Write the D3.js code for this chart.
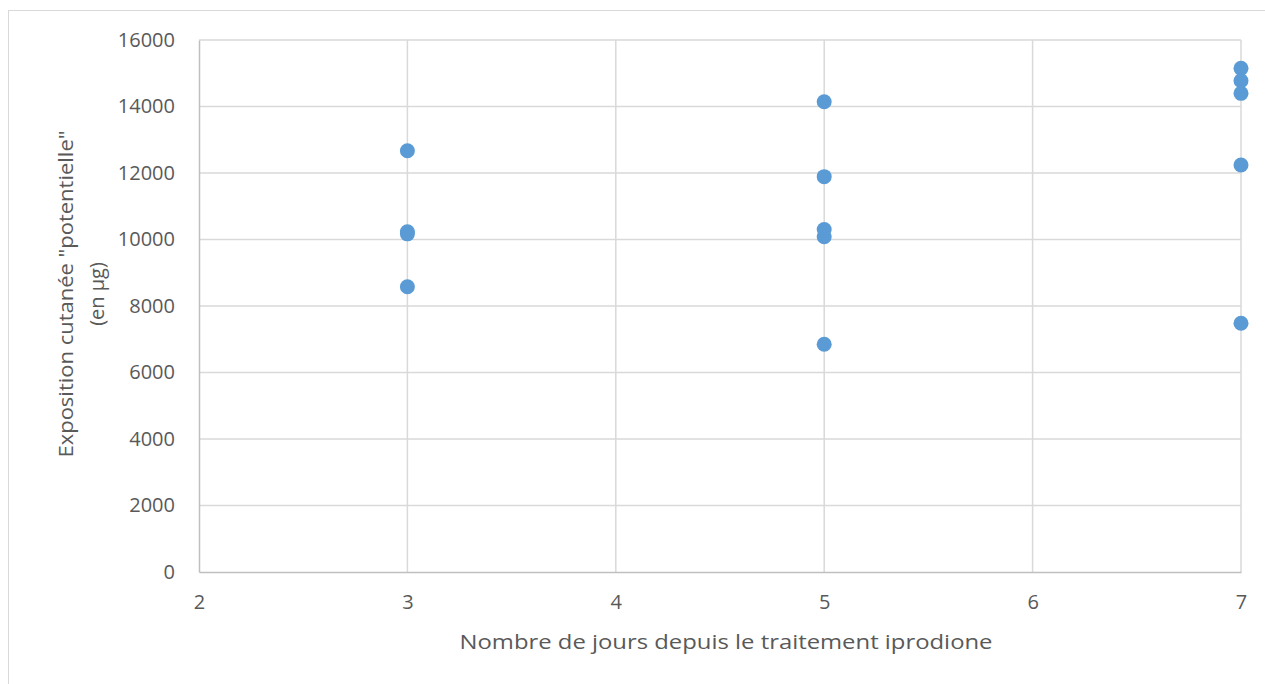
<!DOCTYPE html>
<html>
<head>
<meta charset="utf-8" />
<title>Exposition cutanée</title>
<style>
  body { margin: 0; background: #fff; }
  text { font-family: "Open Sans", sans-serif; fill: #595959; }
</style>
</head>
<body>
<div id="chart"></div>
<script src="https://d3js.org/d3.v7.min.js"></script>
<script>
// jours depuis le traitement, et exposition (µg)
var jours = [3, 3, 3, 3, 5, 5, 5, 5, 5, 7, 7, 7, 7, 7];
var exposition = [12670, 10235, 10170, 8580, 14144, 11890, 10300, 10084, 6848, 15148, 14776, 14396, 12240, 7480];
var xTicks = [2, 3, 4, 5, 6, 7];
var yTicks = [0, 2000, 4000, 6000, 8000, 10000, 12000, 14000, 16000];

var width = 1265, height = 684;
var mLeft = 199, mRight = 1241, mTop = 40, mBottom = 572;

var svg = d3.select("#chart").append("svg")
  .attr("width", width).attr("height", height);

// cadre du graphique
svg.append("rect")
  .attr("x", 8.5).attr("y", 10.5)
  .attr("width", width + 10).attr("height", height + 10)
  .attr("fill", "none").attr("stroke", "#D9D9D9");

var x = d3.scaleLinear().domain([2, 7]).range([mLeft, mRight]);
var y = d3.scaleLinear().domain([0, 16000]).range([mBottom, mTop]);

// grille
svg.append("g").selectAll("line").data(xTicks.slice(1)).enter().append("line")
  .attr("x1", d => x(d)).attr("x2", d => x(d))
  .attr("y1", mTop).attr("y2", mBottom)
  .attr("stroke", "#D9D9D9").attr("stroke-width", 1.5);
svg.append("g").selectAll("line").data(yTicks.slice(1)).enter().append("line")
  .attr("x1", mLeft).attr("x2", mRight)
  .attr("y1", d => y(d)).attr("y2", d => y(d))
  .attr("stroke", "#D9D9D9").attr("stroke-width", 1.5);

// axes
var xAxis = svg.append("g").attr("transform", "translate(0," + mBottom + ")")
  .call(d3.axisBottom(x).tickValues(xTicks).tickFormat(d3.format("d")).tickSize(0).tickPadding(23));
var yAxis = svg.append("g").attr("transform", "translate(" + mLeft + ",0)")
  .call(d3.axisLeft(y).tickValues(yTicks).tickFormat(d3.format("d")).tickSize(0).tickPadding(24));
[xAxis, yAxis].forEach(function(a) {
  a.select(".domain").attr("stroke", "#BFBFBF").attr("stroke-width", 1.5);
  a.selectAll("text").style("font-size", "20px").attr("fill", "#595959")
    .style("font-family", "'Open Sans', sans-serif");
});

// points
svg.append("g").selectAll("circle").data(jours).enter().append("circle")
  .attr("cx", d => x(d))
  .attr("cy", (d, i) => y(exposition[i]))
  .attr("r", 7.5)
  .attr("fill", "#5B9BD5");

// titres des axes
svg.append("text")
  .attr("x", (mLeft + mRight) / 2 + 6).attr("y", 649)
  .attr("text-anchor", "middle").style("font-size", "20px")
  .attr("textLength", 533).attr("lengthAdjust", "spacingAndGlyphs")
  .text("Nombre de jours depuis le traitement iprodione");

var yt = svg.append("text")
  .attr("transform", "translate(66,294) rotate(-90)")
  .attr("text-anchor", "middle").style("font-size", "20px");
yt.append("tspan").attr("x", 0).attr("dy", "0.35em")
  .attr("textLength", 327).attr("lengthAdjust", "spacingAndGlyphs")
  .text("Exposition cutanée \"potentielle\"");
yt.append("tspan").attr("x", 0).attr("dy", 31).text("(en µg)");
</script>
</body>
</html>
